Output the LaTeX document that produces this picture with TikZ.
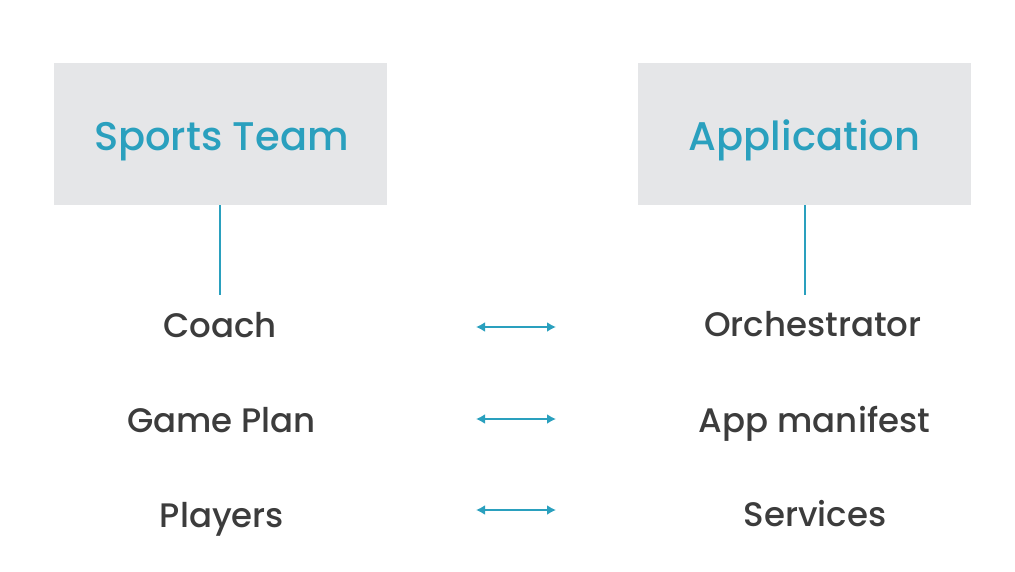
\documentclass[tikz,border=0pt]{standalone}
\usepackage{fontspec}
\setmainfont{Poppins}
\newfontfamily\medfont{Poppins Medium}
\usetikzlibrary{arrows.meta}
\definecolor{teal}{HTML}{2AA0BE}
\definecolor{boxgray}{HTML}{E5E6E8}
\definecolor{labelgray}{HTML}{3C3C3C}
\tikzset{
  titlebox/.style={fill=boxgray, draw=none, minimum width=333pt, minimum height=142pt, inner sep=0pt},
  title/.style={text=teal, font=\medfont\fontsize{40}{44}\selectfont, inner sep=0pt, anchor=base},
  item/.style={text=labelgray, font=\medfont\fontsize{34}{38}\selectfont, inner sep=0pt, anchor=base},
  stem/.style={draw=teal, line width=2.5pt},
  pair/.style={draw=teal, line width=2.5pt, {Latex[length=9pt,width=10pt]}-{Latex[length=9pt,width=10pt]}}
}
\begin{document}
\begin{tikzpicture}[x=1pt,y=-1pt]
  \useasboundingbox (0,0) rectangle (1015,571);
  % header boxes with their titles
  \node[titlebox] (team) at (220.5,134) {};
  \node[titlebox] (app) at (804.5,134) {};
  \node[title] (teamtitle) at (221.5,150) {Sports Team};
  \node[title] (apptitle) at (804.5,150) {Application};
  % stems below the headers
  \coordinate (teamend) at (220,295);
  \coordinate (append) at (805,295);
  \draw[stem] (team.south -| teamend) -- (teamend);
  \draw[stem] (app.south -| append) -- (append);
  % left column
  \node[item] (coach) at (220,337) {Coach};
  \node[item] (plan) at (221.5,432) {Game Plan};
  \node[item] (players) at (222,527) {Players};
  % right column
  \node[item] (orch) at (813,336) {Orchestrator};
  \node[item] (manifest) at (814.5,432) {App manifest};
  \node[item] (services) at (815,526) {Services};
  % correspondence arrows
  \coordinate (a1l) at (476,327); \coordinate (a1r) at (556,327);
  \coordinate (a2l) at (476,419); \coordinate (a2r) at (556,419);
  \coordinate (a3l) at (476,510); \coordinate (a3r) at (556,510);
  \draw[pair] (a1l) -- (a1r);
  \draw[pair] (a2l) -- (a2r);
  \draw[pair] (a3l) -- (a3r);
\end{tikzpicture}
\end{document}
